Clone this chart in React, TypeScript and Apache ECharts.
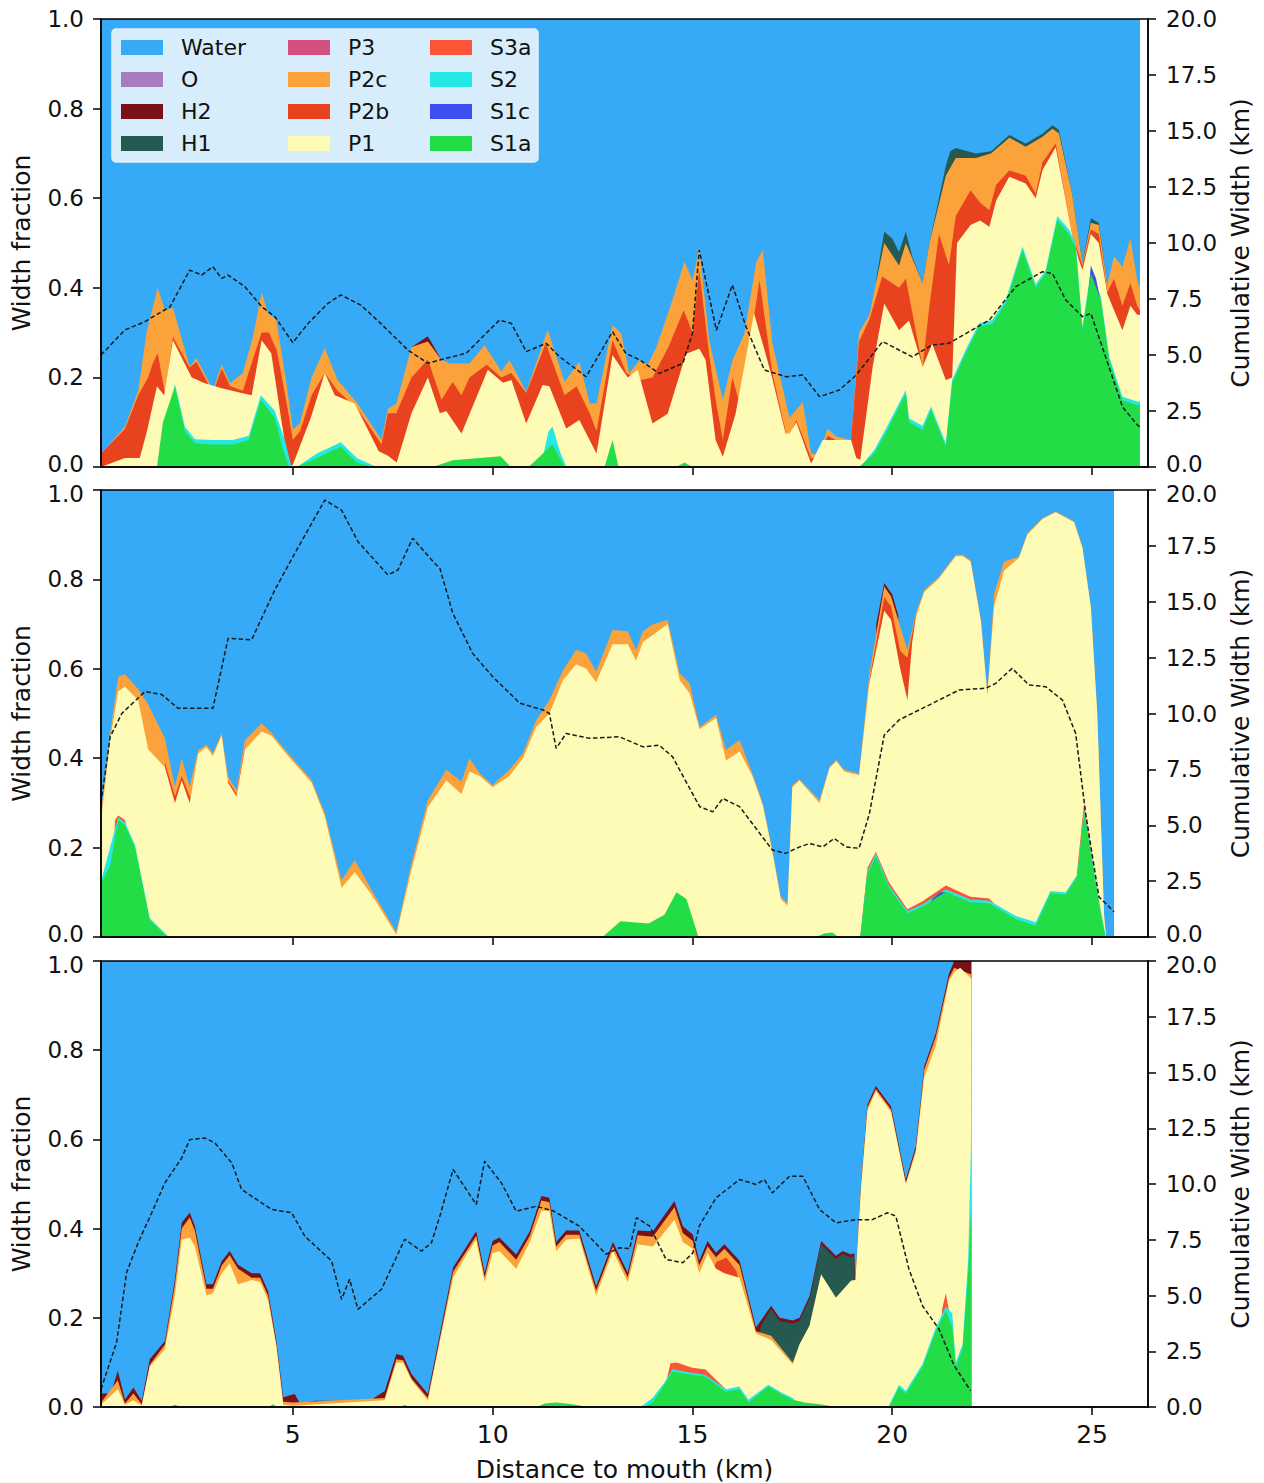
import React, { useEffect, useRef } from "react";
import * as echarts from "echarts";

const FONT = "DejaVu Sans";
const X_MIN = 0.2;
const X_MAX = 26.4;
const X_TICKS = [5, 10, 15, 20, 25];
const PANEL_TOPS = [19, 490, 961];
const PANEL_HEIGHTS = [448, 447, 447];

const LEGEND_COLUMNS = [
  ["Water", "O", "H2", "H1"],
  ["P3", "P2c", "P2b", "P1"],
  ["S3a", "S2", "S1c", "S1a"],
];
const DRAW_ORDER = ["Water", "O", "H2", "H1", "P3", "P2c", "P2b", "P1", "S3a", "S2", "S1c", "S1a"];
const COLORS: Record<string, string> = {
  Water: "#36aaf7",
  O: "#a77bbe",
  H2: "#7a1018",
  H1: "#265a50",
  P3: "#d44f80",
  P2c: "#fba23a",
  P2b: "#e8421f",
  P1: "#fdfbb5",
  S3a: "#fb5537",
  S2: "#25e8e4",
  S1c: "#3e4ff0",
  S1a: "#22dd46",
};

// ---------- Panel 1 (cumulative top of each layer, width fraction) ----------
const water1 = [[0.2, 1], [26.2, 1]];
const oLayer1: number[][] = [];
const p3Layer1: number[][] = [];
const h2_1 = [[7.97, 0.268], [8.38, 0.292], [8.72, 0.239]];
const h1_1 = [[19.6, 0.42], [19.8, 0.525], [20.0, 0.51], [20.17, 0.48], [20.34, 0.525], [20.5, 0.47], [20.76, 0.41], [20.93, 0.5], [21.34, 0.672], [21.45, 0.705], [21.59, 0.712], [22.09, 0.7], [22.47, 0.705], [22.93, 0.741], [23.34, 0.722], [23.76, 0.744], [24.01, 0.763], [24.17, 0.752], [24.5, 0.61], [24.76, 0.455], [24.97, 0.555], [25.17, 0.545], [25.38, 0.406]];
const p2c_1 = [[0.2, 0.03], [0.8, 0.09], [1.13, 0.17], [1.34, 0.3], [1.62, 0.4], [1.8, 0.35], [2.0, 0.355], [2.42, 0.224], [2.59, 0.243], [3.0, 0.172], [3.22, 0.228], [3.43, 0.187], [3.75, 0.21], [4.0, 0.29], [4.22, 0.39], [4.38, 0.343], [4.59, 0.328], [4.84, 0.187], [5.0, 0.083], [5.18, 0.098], [5.47, 0.2], [5.8, 0.265], [6.12, 0.194], [6.62, 0.142], [7.22, 0.06], [7.38, 0.13], [7.59, 0.142], [7.97, 0.268], [8.38, 0.28], [8.72, 0.239], [8.93, 0.231], [9.42, 0.231], [9.8, 0.272], [10.22, 0.213], [10.42, 0.239], [10.84, 0.168], [11.38, 0.306], [11.8, 0.19], [12.17, 0.235], [12.43, 0.142], [12.6, 0.142], [13.0, 0.317], [13.22, 0.298], [13.42, 0.209], [13.68, 0.239], [13.88, 0.228], [14.1, 0.268], [14.5, 0.373], [14.8, 0.458], [15.0, 0.417], [15.17, 0.488], [15.42, 0.283], [15.76, 0.15], [16.0, 0.238], [16.3, 0.298], [16.6, 0.458], [16.76, 0.484], [17.0, 0.276], [17.43, 0.11], [17.76, 0.145], [17.97, 0.03], [18.17, 0.027], [18.38, 0.086], [18.59, 0.068], [18.97, 0.06], [19.17, 0.3], [19.43, 0.34], [19.8, 0.5], [20.17, 0.45], [20.34, 0.5], [20.76, 0.41], [20.93, 0.5], [21.34, 0.65], [21.59, 0.69], [22.09, 0.69], [22.47, 0.7], [22.93, 0.735], [23.34, 0.715], [23.76, 0.737], [24.01, 0.755], [24.17, 0.745], [24.5, 0.61], [24.76, 0.455], [24.97, 0.545], [25.17, 0.54], [25.38, 0.406], [25.55, 0.47], [25.76, 0.447], [25.96, 0.51], [26.13, 0.417], [26.2, 0.4]];
const p2b_1 = [[0.2, 0.03], [0.8, 0.085], [1.13, 0.16], [1.38, 0.2], [1.5, 0.232], [1.62, 0.254], [1.8, 0.165], [2.0, 0.29], [2.42, 0.222], [2.59, 0.235], [3.0, 0.165], [3.22, 0.22], [3.43, 0.18], [3.75, 0.17], [4.0, 0.24], [4.22, 0.3], [4.4, 0.3], [4.6, 0.26], [4.85, 0.14], [5.0, 0.06], [5.18, 0.08], [5.47, 0.16], [5.8, 0.21], [6.12, 0.17], [6.62, 0.13], [7.22, 0.05], [7.38, 0.12], [7.59, 0.12], [7.97, 0.2], [8.38, 0.24], [8.72, 0.15], [9.0, 0.19], [9.22, 0.16], [9.42, 0.2], [9.85, 0.228], [10.22, 0.2], [10.47, 0.21], [10.84, 0.165], [11.33, 0.276], [11.8, 0.16], [12.1, 0.18], [12.43, 0.12], [12.6, 0.08], [13.0, 0.283], [13.35, 0.209], [13.7, 0.194], [14.0, 0.2], [14.4, 0.268], [14.78, 0.35], [15.0, 0.3], [15.17, 0.44], [15.42, 0.25], [15.58, 0.15], [15.76, 0.06], [16.0, 0.2], [16.2, 0.135], [16.68, 0.417], [17.0, 0.209], [17.38, 0.06], [17.6, 0.105], [17.97, 0.02], [18.17, 0.02], [18.38, 0.07], [18.59, 0.06], [18.97, 0.06], [19.17, 0.28], [19.43, 0.33], [19.75, 0.425], [20.17, 0.4], [20.34, 0.42], [20.76, 0.224], [20.93, 0.36], [21.17, 0.52], [21.42, 0.45], [21.59, 0.56], [21.96, 0.618], [22.2, 0.59], [22.43, 0.573], [22.6, 0.63], [22.93, 0.662], [23.34, 0.65], [23.59, 0.61], [23.76, 0.68], [24.09, 0.722], [24.5, 0.52], [24.76, 0.45], [24.97, 0.53], [25.17, 0.52], [25.38, 0.39], [25.55, 0.42], [25.76, 0.36], [25.96, 0.41], [26.13, 0.36], [26.2, 0.35]];
const p1_1 = [[0.2, 0], [0.5, 0.01], [0.8, 0.02], [1.17, 0.02], [1.35, 0.08], [1.6, 0.18], [1.78, 0.16], [2.0, 0.283], [2.47, 0.2], [2.8, 0.187], [3.22, 0.176], [3.72, 0.165], [3.97, 0.16], [4.22, 0.283], [4.46, 0.254], [4.7, 0.112], [4.9, 0.0], [5.0, 0.005], [5.45, 0.11], [5.8, 0.21], [6.05, 0.16], [6.55, 0.142], [7.15, 0.035], [7.38, 0.025], [7.6, 0.01], [7.97, 0.12], [8.38, 0.2], [8.68, 0.12], [8.84, 0.125], [9.22, 0.075], [9.88, 0.217], [10.26, 0.188], [10.47, 0.194], [10.84, 0.097], [11.25, 0.183], [11.42, 0.18], [11.84, 0.086], [12.17, 0.105], [12.6, 0.03], [13.0, 0.25], [13.38, 0.2], [13.63, 0.217], [14.0, 0.097], [14.38, 0.119], [14.84, 0.253], [15.17, 0.264], [15.33, 0.239], [15.58, 0.06], [15.76, 0.023], [16.08, 0.119], [16.54, 0.343], [16.83, 0.253], [17.0, 0.197], [17.33, 0.075], [17.43, 0.075], [17.6, 0.1], [17.97, 0.008], [18.26, 0.06], [18.97, 0.06], [19.1, 0.02], [19.2, 0.016], [19.51, 0.224], [19.8, 0.365], [20.17, 0.305], [20.42, 0.327], [20.76, 0.224], [21.0, 0.275], [21.34, 0.194], [21.5, 0.2], [21.62, 0.5], [21.96, 0.54], [22.2, 0.55], [22.43, 0.536], [22.6, 0.595], [22.93, 0.648], [23.34, 0.633], [23.59, 0.6], [23.76, 0.663], [24.09, 0.714], [24.5, 0.52], [24.67, 0.462], [24.76, 0.44], [24.97, 0.52], [25.17, 0.5], [25.38, 0.387], [25.55, 0.35], [25.76, 0.305], [25.96, 0.36], [26.13, 0.34], [26.2, 0.34]];
const s2_1 = [[1.65, 0], [2.05, 0.185], [2.3, 0.09], [2.55, 0.062], [3.0, 0.06], [3.5, 0.06], [3.9, 0.07], [4.2, 0.16], [4.55, 0.125], [4.8, 0.06], [4.97, 0.0], [5.1, 0], [5.6, 0.03], [6.2, 0.055], [6.6, 0.02], [7.1, 0], [11.2, 0], [11.4, 0.08], [11.5, 0.09], [11.7, 0.03], [11.85, 0], [19.2, 0], [19.55, 0.038], [19.88, 0.092], [20.34, 0.172], [20.42, 0.108], [20.76, 0.092], [20.97, 0.135], [21.34, 0.053], [21.5, 0.195], [21.84, 0.262], [22.17, 0.321], [22.5, 0.328], [22.84, 0.373], [23.26, 0.492], [23.59, 0.408], [23.84, 0.44], [24.13, 0.56], [24.42, 0.53], [24.59, 0.5], [24.76, 0.313], [24.97, 0.44], [25.22, 0.38], [25.43, 0.246], [25.76, 0.157], [26.13, 0.146], [26.2, 0.146]];
const s1c_1 = [[24.85, 0.33], [24.97, 0.45], [25.1, 0.42], [25.2, 0.375]];
const s1a_1 = [[1.6, 0], [1.75, 0.1], [2.05, 0.18], [2.3, 0.08], [2.55, 0.053], [3.0, 0.05], [3.5, 0.05], [3.9, 0.06], [4.2, 0.15], [4.55, 0.11], [4.75, 0.04], [4.9, 0], [5.1, 0], [5.6, 0.02], [6.2, 0.045], [6.6, 0.01], [7.0, 0], [8.5, 0], [9.0, 0.015], [10.2, 0.024], [10.45, 0], [10.9, 0], [11.5, 0.05], [11.8, 0], [12.8, 0], [13.0, 0.06], [13.15, 0], [14.6, 0], [14.8, 0.01], [15.0, 0], [19.17, 0], [19.55, 0.03], [19.88, 0.083], [20.34, 0.164], [20.42, 0.1], [20.76, 0.083], [20.97, 0.127], [21.34, 0.045], [21.5, 0.187], [21.84, 0.254], [22.17, 0.313], [22.5, 0.32], [22.84, 0.365], [23.26, 0.484], [23.59, 0.4], [23.84, 0.432], [24.13, 0.551], [24.42, 0.52], [24.59, 0.49], [24.76, 0.305], [24.97, 0.432], [25.22, 0.372], [25.43, 0.238], [25.76, 0.149], [26.13, 0.138], [26.2, 0.138]];
const dash1 = [[0.2, 5.0], [0.8, 6.12], [1.3, 6.49], [1.93, 7.16], [2.42, 8.79], [2.72, 8.57], [3.0, 8.94], [3.22, 8.42], [3.38, 8.57], [3.8, 8.05], [4.22, 7.16], [4.55, 6.71], [5.0, 5.55], [5.38, 6.41], [5.88, 7.31], [6.2, 7.68], [6.7, 7.23], [7.2, 6.41], [7.88, 5.22], [8.38, 4.63], [8.68, 4.78], [9.34, 5.08], [10.17, 6.56], [10.47, 6.41], [10.84, 5.15], [11.34, 5.52], [11.67, 4.93], [12.34, 4.03], [13.0, 6.04], [13.33, 5.08], [13.68, 4.78], [14.17, 4.18], [14.76, 4.63], [15.0, 5.97], [15.17, 9.69], [15.6, 6.1], [16.0, 8.13], [16.34, 6.26], [16.8, 4.33], [17.34, 4.03], [17.76, 4.11], [18.18, 3.14], [18.68, 3.44], [19.1, 4.11], [19.76, 5.6], [20.5, 4.92], [21.0, 5.45], [21.42, 5.52], [22.43, 6.56], [23.09, 8.05], [23.76, 8.72], [24.01, 8.64], [24.34, 7.46], [24.76, 6.71], [24.97, 6.86], [25.76, 2.69], [26.13, 1.88], [26.2, 1.8]];

// ---------- Panel 2 ----------
const water2 = [[0.2, 1], [25.55, 1]];
const h2_2 = [[19.6, 0.7], [19.8, 0.792], [20.0, 0.766], [20.15, 0.72]];
const p2c_2 = [[0.2, 0.28], [0.43, 0.456], [0.63, 0.582], [0.8, 0.588], [1.13, 0.555], [1.38, 0.52], [1.8, 0.444], [2.05, 0.336], [2.22, 0.4], [2.42, 0.336], [2.63, 0.418], [2.84, 0.43], [3.0, 0.411], [3.22, 0.456], [3.38, 0.359], [3.59, 0.329], [3.8, 0.44], [4.22, 0.478], [4.47, 0.456], [4.88, 0.411], [5.47, 0.351], [5.8, 0.277], [6.22, 0.127], [6.55, 0.172], [6.97, 0.105], [7.59, 0.012], [7.97, 0.165], [8.38, 0.306], [8.84, 0.374], [9.22, 0.348], [9.42, 0.4], [9.68, 0.366], [10.0, 0.34], [10.42, 0.374], [10.76, 0.411], [11.09, 0.485], [11.42, 0.53], [11.76, 0.597], [12.09, 0.642], [12.34, 0.634], [12.59, 0.594], [13.0, 0.687], [13.38, 0.684], [13.59, 0.642], [13.76, 0.684], [14.0, 0.699], [14.38, 0.71], [14.68, 0.59], [14.93, 0.567], [15.18, 0.47], [15.59, 0.497], [15.84, 0.419], [16.18, 0.44], [16.5, 0.366], [16.76, 0.299], [17.0, 0.195], [17.21, 0.09], [17.38, 0.075], [17.5, 0.34], [17.68, 0.353], [18.18, 0.306], [18.43, 0.381], [18.6, 0.396], [18.8, 0.374], [19.17, 0.366], [19.43, 0.59], [19.8, 0.784], [19.97, 0.762], [20.38, 0.642], [20.59, 0.724], [20.8, 0.776], [21.17, 0.806], [21.59, 0.855], [21.76, 0.855], [21.96, 0.843], [22.22, 0.71], [22.38, 0.545], [22.55, 0.769], [22.8, 0.84], [23.17, 0.851], [23.38, 0.903], [23.76, 0.937], [24.09, 0.952], [24.55, 0.93], [24.76, 0.873], [24.97, 0.739], [25.13, 0.5], [25.3, 0.05], [25.35, 0]];
const p2b_2 = [[1.8, 0.39], [2.05, 0.315], [2.22, 0.36], [2.42, 0.315], [2.6, 0.3], [2.65, 0], [3.3, 0], [3.38, 0.35], [3.59, 0.32], [3.8, 0.425], [3.9, 0], [19.3, 0], [19.43, 0.575], [19.8, 0.76], [19.97, 0.74], [20.2, 0.64], [20.38, 0.625], [20.5, 0.68], [20.59, 0.72], [20.7, 0]];
const p1_2 = [[0.2, 0.26], [0.43, 0.44], [0.63, 0.55], [0.8, 0.56], [1.13, 0.53], [1.38, 0.42], [1.8, 0.38], [2.05, 0.3], [2.22, 0.35], [2.42, 0.3], [2.63, 0.41], [2.84, 0.425], [3.0, 0.405], [3.22, 0.45], [3.38, 0.345], [3.59, 0.315], [3.8, 0.42], [4.22, 0.46], [4.47, 0.45], [4.88, 0.405], [5.47, 0.345], [5.8, 0.27], [6.22, 0.11], [6.55, 0.145], [6.97, 0.095], [7.59, 0.005], [7.97, 0.15], [8.38, 0.29], [8.84, 0.35], [9.22, 0.32], [9.42, 0.37], [9.68, 0.36], [10.0, 0.335], [10.42, 0.36], [10.76, 0.4], [11.09, 0.47], [11.42, 0.5], [11.76, 0.575], [12.09, 0.61], [12.34, 0.6], [12.59, 0.57], [13.0, 0.655], [13.38, 0.655], [13.59, 0.618], [13.76, 0.66], [14.0, 0.675], [14.38, 0.7], [14.68, 0.575], [14.93, 0.545], [15.18, 0.465], [15.59, 0.49], [15.84, 0.395], [16.18, 0.415], [16.5, 0.36], [16.76, 0.295], [17.0, 0.19], [17.21, 0.085], [17.38, 0.07], [17.5, 0.335], [17.68, 0.35], [18.18, 0.3], [18.43, 0.378], [18.6, 0.393], [18.8, 0.37], [19.17, 0.362], [19.43, 0.57], [19.8, 0.73], [19.97, 0.71], [20.2, 0.6], [20.38, 0.53], [20.5, 0.66], [20.59, 0.715], [20.8, 0.772], [21.17, 0.802], [21.59, 0.852], [21.76, 0.852], [21.96, 0.84], [22.22, 0.705], [22.38, 0.54], [22.55, 0.74], [22.8, 0.82], [23.17, 0.848], [23.38, 0.9], [23.76, 0.935], [24.09, 0.95], [24.55, 0.928], [24.76, 0.87], [24.97, 0.737], [25.13, 0.5], [25.3, 0.05], [25.35, 0]];
const s3a_2 = [[0.45, 0], [0.55, 0.262], [0.63, 0.272], [0.8, 0.262], [0.95, 0.2], [1.0, 0], [19.2, 0], [19.38, 0.155], [19.59, 0.19], [19.92, 0.122], [20.38, 0.062], [20.76, 0.08], [21.34, 0.115], [21.96, 0.09], [22.43, 0.086], [22.6, 0.07], [22.7, 0], [24.5, 0], [24.63, 0.15], [24.8, 0.3], [25.0, 0.18], [25.1, 0]];
const s2_2 = [[0.2, 0.125], [0.63, 0.268], [0.8, 0.256], [1.05, 0.206], [1.42, 0.042], [1.9, 0], [19.2, 0], [19.38, 0.148], [19.59, 0.186], [19.92, 0.116], [20.38, 0.058], [20.76, 0.073], [21.34, 0.107], [21.96, 0.084], [22.43, 0.081], [23.09, 0.047], [23.59, 0.033], [23.96, 0.103], [24.34, 0.1], [24.63, 0.14], [24.8, 0.285], [25.0, 0.176], [25.2, 0.068], [25.34, 0]];
const s1c_2 = [[20.85, 0.06], [21.0, 0.085], [21.2, 0.1], [21.34, 0.1], [21.45, 0.08]];
const s1a_2 = [[0.2, 0.12], [0.43, 0.16], [0.63, 0.262], [0.8, 0.25], [1.05, 0.2], [1.42, 0.038], [1.8, 0.005], [1.9, 0], [12.75, 0], [13.2, 0.035], [13.9, 0.03], [14.3, 0.05], [14.6, 0.1], [14.85, 0.085], [15.15, 0], [18.1, 0], [18.3, 0.008], [18.5, 0.01], [18.65, 0], [19.2, 0], [19.38, 0.142], [19.59, 0.18], [19.92, 0.11], [20.38, 0.053], [20.76, 0.068], [21.34, 0.101], [21.96, 0.078], [22.43, 0.075], [23.09, 0.04], [23.59, 0.025], [23.96, 0.098], [24.34, 0.095], [24.63, 0.135], [24.8, 0.277], [25.0, 0.17], [25.2, 0.0625], [25.34, 0]];
const dash2 = [[0.2, 6.0], [0.43, 8.96], [0.72, 10.0], [1.3, 10.98], [1.72, 10.85], [2.13, 10.23], [3.0, 10.23], [3.38, 13.36], [3.97, 13.3], [4.55, 15.53], [5.05, 17.17], [5.8, 19.55], [6.22, 19.1], [6.63, 17.69], [7.38, 16.2], [7.63, 16.42], [8.0, 17.84], [8.55, 16.72], [8.68, 16.5], [9.0, 14.5], [9.5, 12.69], [10.0, 11.65], [10.68, 10.46], [11.26, 10.16], [11.42, 10.0], [11.59, 8.44], [11.84, 9.11], [12.42, 8.89], [13.17, 8.96], [13.76, 8.51], [14.17, 8.58], [14.5, 8.07], [15.18, 5.83], [15.51, 5.6], [15.76, 6.2], [16.18, 5.83], [17.0, 3.89], [17.33, 3.74], [17.68, 4.03], [17.93, 4.18], [18.26, 4.03], [18.55, 4.41], [18.84, 4.03], [19.17, 3.97], [19.43, 5.53], [19.8, 9.04], [20.17, 9.71], [21.17, 10.6], [21.67, 11.05], [22.34, 11.13], [22.59, 11.35], [23.0, 12.02], [23.42, 11.28], [23.84, 11.2], [24.26, 10.6], [24.59, 9.11], [24.84, 5.53], [25.17, 1.8], [25.55, 1.13]];

// ---------- Panel 3 ----------
const water3 = [[0.2, 1], [21.98, 1]];
const h2_3 = [[0.2, 0.03], [0.45, 0.03], [0.62, 0.081], [0.8, 0.017], [1.01, 0.044], [1.22, 0.014], [1.42, 0.107], [1.8, 0.148], [2.05, 0.286], [2.22, 0.413], [2.42, 0.436], [2.55, 0.405], [2.84, 0.275], [3.0, 0.275], [3.22, 0.327], [3.42, 0.35], [3.63, 0.319], [3.97, 0.3], [4.18, 0.3], [4.38, 0.26], [4.59, 0.148], [4.76, 0.022], [5.05, 0.029], [5.18, 0.007], [5.55, 0.014], [6.22, 0.014], [6.55, 0.007], [6.97, 0.017], [7.3, 0.036], [7.59, 0.119], [7.76, 0.115], [7.97, 0.074], [8.38, 0.029], [8.72, 0.182], [9.01, 0.313], [9.59, 0.394], [9.8, 0.301], [10.0, 0.372], [10.17, 0.38], [10.59, 0.342], [10.93, 0.394], [11.22, 0.473], [11.42, 0.469], [11.59, 0.37], [11.84, 0.396], [12.17, 0.396], [12.59, 0.271], [13.01, 0.37], [13.38, 0.301], [13.63, 0.396], [14.01, 0.394], [14.55, 0.462], [14.76, 0.405], [15.01, 0.387], [15.17, 0.328], [15.38, 0.372], [15.59, 0.346], [15.8, 0.365], [16.18, 0.328], [16.59, 0.178], [16.97, 0.227], [17.18, 0.2], [17.51, 0.194], [17.68, 0.2], [17.93, 0.249], [18.22, 0.372], [18.59, 0.339], [18.76, 0.35], [18.97, 0.342], [19.05, 0.345], [19.08, 0.285], [19.22, 0.5], [19.38, 0.678], [19.59, 0.72], [19.97, 0.674], [20.34, 0.51], [20.59, 0.585], [20.8, 0.764], [21.09, 0.838], [21.42, 0.972], [21.55, 1.0], [21.98, 1.0]];
const h1_3 = [[16.7, 0.18], [16.97, 0.22], [17.18, 0.193], [17.51, 0.187], [17.68, 0.193], [17.93, 0.242], [18.22, 0.365], [18.59, 0.332], [18.76, 0.343], [18.97, 0.335], [19.05, 0.338], [19.08, 0.2]];
const p2c_3 = [[0.2, 0.01], [0.62, 0.06], [0.8, 0.008], [1.01, 0.03], [1.22, 0.006], [1.42, 0.095], [1.8, 0.14], [2.05, 0.275], [2.22, 0.4], [2.42, 0.425], [2.55, 0.395], [2.84, 0.265], [3.0, 0.265], [3.22, 0.317], [3.42, 0.34], [3.63, 0.31], [3.97, 0.29], [4.18, 0.29], [4.38, 0.25], [4.59, 0.14], [4.76, 0.012], [5.0, 0.01], [7.3, 0.02], [7.59, 0.107], [7.76, 0.105], [7.97, 0.064], [8.38, 0.02], [8.72, 0.172], [9.01, 0.303], [9.59, 0.384], [9.8, 0.291], [10.0, 0.362], [10.17, 0.37], [10.59, 0.33], [10.93, 0.384], [11.22, 0.463], [11.42, 0.459], [11.59, 0.36], [11.84, 0.386], [12.17, 0.386], [12.59, 0.261], [13.01, 0.36], [13.38, 0.291], [13.63, 0.385], [14.01, 0.382], [14.55, 0.448], [14.76, 0.39], [15.01, 0.372], [15.17, 0.318], [15.38, 0.36], [15.59, 0.336], [15.8, 0.355], [16.18, 0.318], [16.59, 0.17], [16.97, 0.16], [17.51, 0.1], [17.68, 0.14], [17.93, 0.182], [18.22, 0.297], [18.59, 0.245], [18.97, 0.283], [19.08, 0.285], [19.22, 0.5], [19.38, 0.672], [19.59, 0.713], [19.97, 0.667], [20.34, 0.503], [20.59, 0.578], [20.8, 0.756], [21.09, 0.83], [21.42, 0.962], [21.55, 0.985], [21.98, 0.97]];
const p2b_3 = [[15.45, 0.3], [15.6, 0.325], [15.85, 0.335], [16.1, 0.305], [16.25, 0.25]];
const p1_3 = [[0.2, 0.005], [0.62, 0.04], [0.8, 0.005], [1.01, 0.015], [1.22, 0.003], [1.42, 0.09], [1.8, 0.13], [2.05, 0.25], [2.22, 0.375], [2.42, 0.38], [2.55, 0.36], [2.84, 0.25], [3.0, 0.255], [3.22, 0.3], [3.42, 0.322], [3.63, 0.275], [3.97, 0.285], [4.18, 0.28], [4.38, 0.24], [4.59, 0.135], [4.76, 0.005], [5.0, 0.003], [7.3, 0.015], [7.59, 0.1], [7.76, 0.1], [7.97, 0.06], [8.38, 0.015], [8.72, 0.165], [9.01, 0.29], [9.4, 0.35], [9.59, 0.375], [9.8, 0.28], [10.0, 0.345], [10.17, 0.35], [10.59, 0.31], [10.93, 0.37], [11.22, 0.44], [11.42, 0.44], [11.59, 0.35], [11.84, 0.375], [12.17, 0.378], [12.59, 0.25], [13.01, 0.35], [13.38, 0.28], [13.63, 0.365], [14.01, 0.36], [14.55, 0.42], [14.76, 0.37], [15.01, 0.355], [15.17, 0.3], [15.38, 0.345], [15.59, 0.31], [15.8, 0.3], [16.18, 0.29], [16.59, 0.165], [16.97, 0.15], [17.51, 0.096], [17.68, 0.14], [17.93, 0.182], [18.22, 0.297], [18.59, 0.245], [18.97, 0.283], [19.08, 0.285], [19.22, 0.49], [19.38, 0.665], [19.59, 0.708], [19.97, 0.662], [20.34, 0.5], [20.59, 0.57], [20.8, 0.74], [21.09, 0.81], [21.42, 0.955], [21.55, 0.975], [21.7, 0.985], [21.98, 0.96]];
const s3a_3 = [[14.2, 0], [14.45, 0.098], [14.6, 0.1], [15.0, 0.088], [15.33, 0.084], [15.6, 0.06], [15.84, 0.04], [16.0, 0], [21.1, 0], [21.25, 0.22], [21.34, 0.255], [21.45, 0.2], [21.5, 0]];
const s2_3 = [[13.7, 0], [14.0, 0.02], [14.3, 0.055], [14.5, 0.085], [14.76, 0.08], [15.33, 0.072], [15.84, 0.04], [16.17, 0.046], [16.4, 0.016], [16.9, 0.05], [17.24, 0.032], [17.51, 0.02], [17.7, 0], [19.9, 0], [20.17, 0.05], [20.34, 0.036], [20.76, 0.097], [21.09, 0.178], [21.34, 0.225], [21.5, 0.21], [21.59, 0.1], [21.76, 0.14], [21.9, 0.33], [21.98, 0.62]];
const s1a_3 = [[0.2, 0], [1.9, 0], [2.05, 0.005], [2.2, 0], [4.4, 0], [4.5, 0.006], [4.6, 0], [7.7, 0], [7.8, 0.005], [7.9, 0], [11.1, 0], [11.3, 0.008], [11.6, 0.01], [12.0, 0.006], [12.4, 0], [13.8, 0], [14.0, 0.01], [14.3, 0.05], [14.5, 0.08], [14.76, 0.075], [15.33, 0.068], [15.84, 0.034], [16.17, 0.04], [16.4, 0.01], [16.9, 0.046], [17.24, 0.028], [17.51, 0.016], [17.8, 0.01], [18.2, 0.006], [18.6, 0], [19.93, 0], [20.17, 0.045], [20.34, 0.03], [20.76, 0.09], [21.09, 0.17], [21.34, 0.215], [21.5, 0.18], [21.59, 0.09], [21.76, 0.13], [21.9, 0.3], [21.98, 0.45]];
const dash3 = [[0.2, 0.8], [0.59, 2.89], [0.84, 6.03], [1.13, 7.37], [1.47, 8.71], [1.8, 10.05], [2.22, 11.17], [2.42, 11.99], [2.8, 12.06], [3.05, 11.84], [3.47, 10.95], [3.72, 9.75], [4.47, 8.86], [4.97, 8.71], [5.3, 7.66], [5.97, 6.55], [6.22, 4.83], [6.42, 5.73], [6.63, 4.38], [7.22, 5.28], [7.8, 7.52], [8.22, 6.99], [8.47, 7.37], [8.68, 8.56], [9.01, 10.65], [9.59, 9.08], [9.8, 11.02], [10.22, 10.05], [10.59, 8.78], [11.09, 9.0], [11.51, 8.8], [12.17, 8.11], [12.84, 6.85], [13.17, 7.14], [13.43, 7.1], [13.6, 8.49], [13.93, 8.11], [14.34, 6.62], [14.76, 6.47], [15.01, 6.91], [15.17, 8.11], [15.59, 9.38], [16.18, 10.2], [16.59, 9.98], [16.8, 10.2], [17.0, 9.6], [17.43, 10.35], [17.76, 10.35], [18.18, 8.86], [18.59, 8.26], [19.09, 8.4], [19.5, 8.4], [19.88, 8.71], [20.09, 8.56], [20.42, 6.17], [20.76, 4.53], [21.17, 3.49], [21.55, 1.85], [21.96, 0.73]];

const PANELS: { layers: Record<string, number[][]>; dash: number[][] }[] = [
  {
    layers: { Water: water1, O: oLayer1, H2: h2_1, H1: h1_1, P3: p3Layer1, P2c: p2c_1, P2b: p2b_1, P1: p1_1, S2: s2_1, S1c: s1c_1, S1a: s1a_1 },
    dash: dash1,
  },
  {
    layers: { Water: water2, H2: h2_2, P2c: p2c_2, P2b: p2b_2, P1: p1_2, S3a: s3a_2, S2: s2_2, S1c: s1c_2, S1a: s1a_2 },
    dash: dash2,
  },
  {
    layers: { Water: water3, H2: h2_3, H1: h1_3, P2c: p2c_3, P2b: p2b_3, P1: p1_3, S3a: s3a_3, S2: s2_3, S1a: s1a_3 },
    dash: dash3,
  },
];

const TEXT = { fontFamily: FONT, fontSize: 25, color: "#111" };
const TICK_TEXT = { fontFamily: FONT, fontSize: 23, color: "#111" };
const GRID_LEFT = 101;
const GRID_WIDTH = 1047;

// labels at the shared edge between stacked panels are nudged apart a little
function edgeLabel(i: number, maxVal: number) {
  return (v: number) => {
    const s = v.toFixed(1);
    if (v === 0 && i < 2) return `{lo|${s}}`;
    if (v === maxVal && i > 0) return `{hi|${s}}`;
    return s;
  };
}
const EDGE_RICH = {
  lo: { ...TICK_TEXT, padding: [0, 0, 7, 0] },
  hi: { ...TICK_TEXT, padding: [7, 0, 0, 0] },
};

function buildOption() {
  const grid = PANEL_TOPS.map((top, i) => ({
    left: GRID_LEFT,
    width: GRID_WIDTH,
    top,
    height: PANEL_HEIGHTS[i],
    show: true,
    borderColor: "#000",
    borderWidth: 1.5,
    backgroundColor: "rgba(0,0,0,0)",
    z: 10,
  }));
  const xAxis = PANEL_TOPS.map((_, i) => ({
    type: "value",
    gridIndex: i,
    min: X_MIN,
    max: X_MAX,
    z: 10,
    axisLine: { show: true, onZero: false, lineStyle: { color: "#000", width: 1.5 } },
    axisTick: { show: true, inside: false, length: 8, lineStyle: { color: "#000", width: 1.5 }, customValues: X_TICKS },
    axisLabel: { show: i === 2, customValues: X_TICKS, margin: 15, ...TEXT },
    splitLine: { show: false },
    name: i === 2 ? "Distance to mouth (km)" : "",
    nameLocation: "middle",
    nameGap: 50,
    nameTextStyle: TEXT,
  }));
  const yAxis: any[] = [];
  PANEL_TOPS.forEach((_, i) => {
    yAxis.push({
      type: "value",
      gridIndex: i,
      position: "left",
      min: 0,
      max: 1,
      interval: 0.2,
      z: 10,
      axisLine: { show: true, onZero: false, lineStyle: { color: "#000", width: 1.5 } },
      axisTick: { show: true, inside: false, length: 8, lineStyle: { color: "#000", width: 1.5 } },
      axisLabel: { formatter: edgeLabel(i, 1), rich: EDGE_RICH, margin: 17, ...TICK_TEXT },
      splitLine: { show: false },
      name: "Width fraction",
      nameLocation: "middle",
      nameRotate: 90,
      nameGap: 67,
      nameTextStyle: TEXT,
    });
    yAxis.push({
      type: "value",
      gridIndex: i,
      position: "right",
      min: 0,
      max: 20,
      interval: 2.5,
      z: 10,
      axisLine: { show: true, onZero: false, lineStyle: { color: "#000", width: 1.5 } },
      axisTick: { show: true, inside: false, length: 8, lineStyle: { color: "#000", width: 1.5 } },
      axisLabel: { formatter: edgeLabel(i, 20), rich: EDGE_RICH, margin: 18, ...TICK_TEXT },
      splitLine: { show: false },
      name: "Cumulative Width (km)",
      nameLocation: "middle",
      nameRotate: 90,
      nameGap: 80,
      nameTextStyle: TEXT,
    });
  });

  const series: any[] = [];
  PANELS.forEach((panel, i) => {
    DRAW_ORDER.forEach((name) => {
      const data = panel.layers[name];
      if (!data) return;
      series.push({
        type: "line",
        name,
        xAxisIndex: i,
        yAxisIndex: 2 * i,
        data,
        symbol: "none",
        showSymbol: false,
        silent: true,
        color: COLORS[name],
        itemStyle: { color: COLORS[name] },
        lineStyle: { width: 0, color: COLORS[name] },
        areaStyle: { color: COLORS[name], opacity: 1 },
        z: 2,
      });
    });
    series.push({
      type: "line",
      name: "Cumulative width",
      xAxisIndex: i,
      yAxisIndex: 2 * i + 1,
      data: panel.dash,
      symbol: "none",
      showSymbol: false,
      silent: true,
      lineStyle: { color: "#1a1a1a", width: 1.5, type: [4.5, 2.5] },
      z: 3,
    });
  });

  const legendLefts = [121, 288, 430];
  const legend = LEGEND_COLUMNS.map((names, c) => ({
    data: names,
    orient: "vertical",
    left: legendLefts[c],
    top: 36.5,
    padding: 0,
    itemWidth: 42,
    itemHeight: 15,
    itemGap: 10,
    icon: "rect",
    selectedMode: false,
    z: 6,
    textStyle: { fontFamily: FONT, fontSize: 22, color: "#111", lineHeight: 21, padding: [0, 0, 0, 13] },
  }));

  return {
    animation: false,
    backgroundColor: "#fff",
    grid,
    xAxis,
    yAxis,
    series,
    legend,
    graphic: [
      {
        type: "rect",
        z: 5,
        shape: { x: 112, y: 29, width: 426, height: 133, r: 4 },
        style: { fill: "#d7edfc", stroke: "#e4eef6", lineWidth: 1.5 },
      },
    ],
  };
}

export default function App() {
  const ref = useRef<HTMLDivElement>(null);
  useEffect(() => {
    if (!ref.current) return;
    const chart = echarts.init(ref.current, null, { renderer: "svg" });
    chart.setOption(buildOption() as any);
    return () => chart.dispose();
  }, []);
  return (
    <div
      ref={ref}
      style={{ position: "absolute", left: 0, top: 0, width: 1264, height: 1483, background: "#fff" }}
    />
  );
}
